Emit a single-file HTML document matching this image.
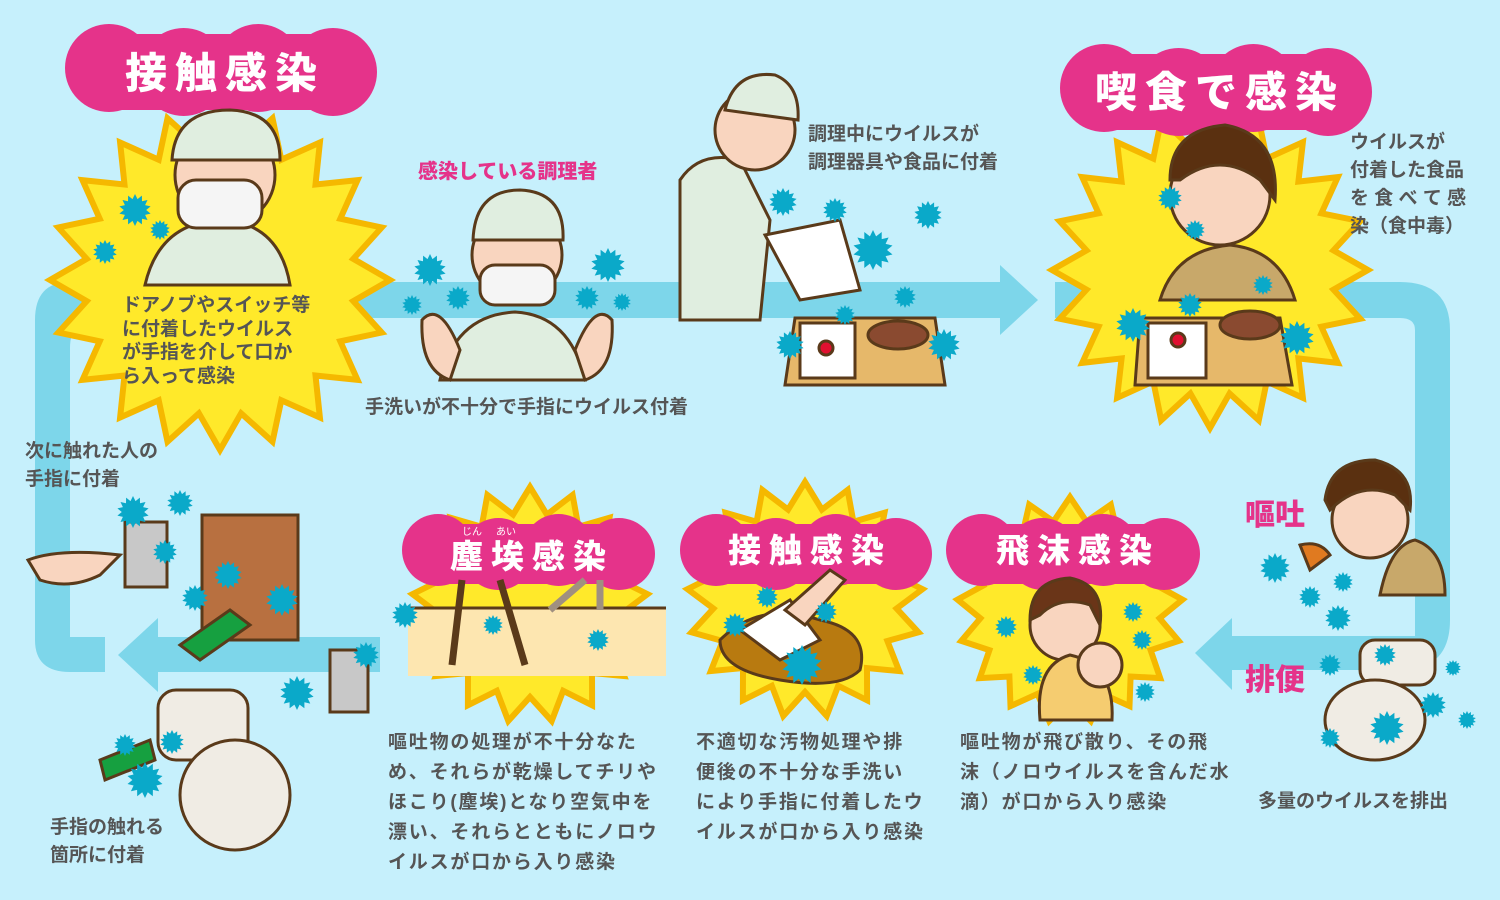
<!DOCTYPE html>
<html><head><meta charset="utf-8">
<style>
html,body{margin:0;padding:0;background:#c6f0fc;}
svg{display:block}
.t{font-family:"Liberation Sans","Noto Sans CJK JP",sans-serif;fill:#555;font-size:19px;font-weight:bold}
.b{letter-spacing:1.8px}
.lbl{font-family:"Liberation Sans","Noto Sans CJK JP",sans-serif;fill:#fff;font-weight:900;letter-spacing:8px}
.pk{font-family:"Liberation Sans","Noto Sans CJK JP",sans-serif;fill:#e5338a;font-weight:900}
</style></head><body>
<svg id="s" width="1500" height="900" viewBox="0 0 1500 900" xmlns="http://www.w3.org/2000/svg">
<rect width="1500" height="900" fill="#c6f0fc"/>
<g fill="#7dd6ea">
<path d="M100 282 H1000 V318 H100 Q70 318 70 348 V637 H105 V672 H70 Q35 672 35 640 V320 Q35 282 70 282 Z"/>
<polygon points="1000,265 1038,300 1000,335"/>
<path d="M1055 282 H1400 Q1450 282 1450 330 V620 Q1450 670 1400 670 H1232 V636 H1415 V330 Q1415 318 1400 318 H1055 Z"/>
<polygon points="1232,618 1195,653 1232,690"/>
<rect x="158" y="637" width="222" height="35"/>
<polygon points="158,618 118,655 158,692"/>
</g>
<g id="stars"></g>
<g id="clouds" fill="#e5338a"></g>
<text class="lbl" x="225" y="88" font-size="42" text-anchor="middle">接触感染</text>
<text class="lbl" x="1220" y="107" font-size="42" text-anchor="middle">喫食で感染</text>
<text class="lbl" x="532" y="568" font-size="33" text-anchor="middle">塵埃感染</text>
<text x="462" y="535" font-size="10" fill="#fff" font-family="Liberation Sans,Noto Sans CJK JP,sans-serif">じん</text>
<text x="496" y="535" font-size="10" fill="#fff" font-family="Liberation Sans,Noto Sans CJK JP,sans-serif">あい</text>
<text class="lbl" x="810" y="562" font-size="33" text-anchor="middle">接触感染</text>
<text class="lbl" x="1078" y="562" font-size="33" text-anchor="middle">飛沫感染</text>
<g stroke="#5a3a1a" stroke-width="3">
<path d="M145 285 Q160 220 225 220 Q280 225 290 285 Z" fill="#e0eee0"/>
<circle cx="225" cy="175" r="50" fill="#f9d5bf"/>
<path d="M172 160 Q175 110 230 110 Q280 112 280 160 Z" fill="#e0eee0"/>
<rect x="178" y="180" width="84" height="48" rx="18" fill="#f5f5f5"/>
<path d="M440 380 Q455 315 515 312 Q570 315 585 380 Z" fill="#e0eee0"/>
<circle cx="517" cy="255" r="45" fill="#f9d5bf"/>
<path d="M473 240 Q475 190 520 190 Q565 192 563 240 Z" fill="#e0eee0"/>
<rect x="480" y="265" width="75" height="40" rx="15" fill="#f5f5f5"/>
<path d="M422 320 Q440 300 460 350 L450 380 Q420 370 422 320Z" fill="#f9d5bf"/>
<path d="M612 320 Q595 300 575 350 L585 380 Q615 370 612 320Z" fill="#f9d5bf"/>
<path d="M680 320 V180 Q700 150 740 160 L770 220 L760 320 Z" fill="#e0eee0"/>
<circle cx="755" cy="130" r="40" fill="#f9d5bf"/>
<path d="M725 110 Q735 70 775 75 Q800 85 798 120 Z" fill="#e0eee0"/>
<polygon points="765,235 840,220 860,290 800,300" fill="#fff"/>
<polygon points="795,318 935,318 945,385 785,385" fill="#e6b86a"/>
<rect x="800" y="323" width="55" height="55" fill="#fff"/>
<circle cx="826" cy="348" r="7" fill="#e01030"/>
<ellipse cx="898" cy="335" rx="30" ry="14" fill="#8a4a30"/>
<path d="M1160 300 Q1175 250 1230 245 Q1280 250 1295 300 Z" fill="#c8a86a"/>
<circle cx="1220" cy="195" r="50" fill="#f9d5bf"/>
<path d="M1170 180 Q1170 130 1225 125 Q1280 135 1275 200 L1260 180 Q1220 150 1180 180Z" fill="#5a3010"/>
<polygon points="1140,318 1280,318 1292,385 1135,385" fill="#e6b86a"/>
<rect x="1148" y="323" width="58" height="55" fill="#fff"/>
<circle cx="1178" cy="340" r="7" fill="#e01030"/>
<ellipse cx="1250" cy="325" rx="30" ry="14" fill="#8a4a30"/>
<path d="M1380 595 Q1390 545 1415 540 Q1445 550 1445 595 Z" fill="#c8a86a"/>
<circle cx="1370" cy="520" r="38" fill="#f9d5bf"/>
<path d="M1325 500 Q1330 460 1375 460 Q1415 470 1410 510 L1395 495 Q1360 480 1330 510Z" fill="#5a3010"/>
<path d="M1300 545 Q1320 540 1330 555 L1310 570Z" fill="#e07a20"/>
<rect x="1360" y="640" width="75" height="45" rx="15" fill="#f0ece4"/>
<ellipse cx="1375" cy="720" rx="50" ry="40" fill="#f0ece4"/>
<circle cx="1065" cy="625" r="35" fill="#f9d5bf"/>
<path d="M1030 620 Q1030 580 1070 578 Q1105 585 1100 625 L1090 605 Q1060 595 1040 615Z" fill="#6a3518"/>
<path d="M1040 720 Q1035 665 1070 655 Q1115 665 1112 720 Z" fill="#f5cc70"/>
<circle cx="1100" cy="665" r="22" fill="#f9d5bf"/>
<rect x="408" y="608" width="258" height="68" fill="#fde6b0" stroke="none"/>
<line x1="408" y1="608" x2="666" y2="608"/>
<path d="M462 580 L452 665 M500 580 L525 665" fill="none" stroke-width="7"/>
<path d="M585 580 L550 610 M600 580 L600 610" fill="none" stroke="#a09080" stroke-width="7"/>
<path d="M720 640 Q760 600 820 620 Q870 630 860 670 Q840 690 780 680 Q720 670 720 640Z" fill="#b87a10"/>
<path d="M740 630 L790 600 L820 640 L780 660Z" fill="#fff"/>
<path d="M785 610 L830 570 L845 580 L805 625Z" fill="#f9d5bf"/>
<rect x="202" y="515" width="96" height="125" fill="#b87040"/>
<rect x="125" y="522" width="42" height="65" fill="#c8c8c8"/>
<path d="M28 560 Q60 548 120 555 L100 575 Q70 590 40 580Z" fill="#f9d5bf"/>
<path d="M180 645 L230 610 L250 625 L200 660Z" fill="#16a040"/>
<rect x="330" y="650" width="38" height="62" fill="#c8c8c8"/>
<rect x="158" y="690" width="90" height="70" rx="18" fill="#f0ece4"/>
<ellipse cx="235" cy="795" rx="55" ry="55" fill="#f0ece4"/>
<path d="M100 760 L150 740 L155 760 L105 780Z" fill="#16a040"/>
</g>
<g id="virus"></g>
<text class="t"><tspan x="122" y="311">ドアノブやスイッチ等</tspan><tspan x="122" y="335">に付着したウイルス</tspan><tspan x="122" y="358">が手指を介して口か</tspan><tspan x="122" y="382">ら入って感染</tspan></text>
<text class="pk" x="418" y="178" font-size="20">感染している調理者</text>
<text class="t" x="365" y="413">手洗いが不十分で手指にウイルス付着</text>
<text class="t"><tspan x="808" y="140">調理中にウイルスが</tspan><tspan x="808" y="168">調理器具や食品に付着</tspan></text>
<text class="t"><tspan x="1350" y="148">ウイルスが</tspan><tspan x="1350" y="176">付着した食品</tspan><tspan x="1350" y="204">を 食 べ て 感</tspan><tspan x="1350" y="232">染（食中毒）</tspan></text>
<text class="t"><tspan x="25" y="457">次に触れた人の</tspan><tspan x="25" y="485">手指に付着</tspan></text>
<text class="pk" x="1245" y="525" font-size="30">嘔吐</text>
<text class="pk" x="1245" y="690" font-size="30">排便</text>
<text class="t" x="1258" y="807">多量のウイルスを排出</text>
<text class="t b"><tspan x="388" y="748">嘔吐物の処理が不十分なた</tspan><tspan x="388" y="778">め、それらが乾燥してチリや</tspan><tspan x="388" y="808">ほこり(塵埃)となり空気中を</tspan><tspan x="388" y="838">漂い、それらとともにノロウ</tspan><tspan x="388" y="868">イルスが口から入り感染</tspan></text>
<text class="t b"><tspan x="696" y="748">不適切な汚物処理や排</tspan><tspan x="696" y="778">便後の不十分な手洗い</tspan><tspan x="696" y="808">により手指に付着したウ</tspan><tspan x="696" y="838">イルスが口から入り感染</tspan></text>
<text class="t b"><tspan x="960" y="748">嘔吐物が飛び散り、その飛</tspan><tspan x="960" y="778">沫（ノロウイルスを含んだ水</tspan><tspan x="960" y="808">滴）が口から入り感染</tspan></text>
<text class="t"><tspan x="50" y="833">手指の触れる</tspan><tspan x="50" y="861">箇所に付着</tspan></text>
</svg>
<script>
var NS="http://www.w3.org/2000/svg";
function star(cx,cy,ro,ri,n,fill,stroke,sw,parent){
 var p=[];for(var i=0;i<2*n;i++){var a=Math.PI*i/n-Math.PI/2;var r=i%2?ri:ro;p.push((cx+r*Math.cos(a)).toFixed(1)+","+(cy+r*Math.sin(a)).toFixed(1));}
 var e=document.createElementNS(NS,"polygon");e.setAttribute("points",p.join(" "));e.setAttribute("fill",fill);
 if(stroke){e.setAttribute("stroke",stroke);e.setAttribute("stroke-width",sw);e.setAttribute("stroke-linejoin","miter");}
 document.getElementById(parent).appendChild(e);}
[[220,280,170,135,20],[1210,270,158,125,20],[530,605,118,92,17],[805,600,118,92,17],[1070,610,113,90,17]].forEach(function(s){
 star(s[0],s[1],s[2],s[3],s[4],"#ffe92a","#f5b800",6,"stars");});
function cloud(x,y,w,h){var g=document.getElementById("clouds");var r=h/2;var n=Math.round(w/(h*0.9));
 for(var i=0;i<n;i++){var c=document.createElementNS(NS,"circle");c.setAttribute("cx",x+r+(w-2*r)*i/(n-1));c.setAttribute("cy",y+r+(i%2?0:-4));c.setAttribute("r",r);g.appendChild(c);}
 var rc=document.createElementNS(NS,"rect");rc.setAttribute("x",x+r);rc.setAttribute("y",y+6);rc.setAttribute("width",w-2*r);rc.setAttribute("height",h-12);g.appendChild(rc);}
cloud(65,28,312,88);cloud(1060,48,312,88);cloud(402,518,253,72);cloud(680,518,252,72);cloud(946,518,254,72);
[[135,210,16],[105,252,12],[160,230,10],[430,270,16],[412,305,10],[458,298,12],[608,265,17],[587,298,12],[622,302,9],[783,202,14],[835,210,12],[928,215,14],[873,250,20],[905,297,11],[790,345,14],[944,345,16],[845,315,10],
[1170,198,12],[1195,230,10],[1263,285,10],[1133,325,17],[1190,305,12],[1297,338,17],[1275,568,15],[1310,597,11],[1343,582,10],[1338,618,13],[1330,665,11],[1385,655,11],[1433,705,13],[1453,668,8],[1467,720,9],[1387,728,17],[1330,738,10],
[133,512,16],[180,503,13],[165,552,12],[228,575,14],[195,598,13],[282,600,16],[405,615,13],[493,625,10],[598,640,11],[767,597,11],[826,612,11],[735,625,12],[802,665,20],[1006,627,11],[1133,612,10],[1142,640,10],[1033,675,10],[1145,692,10],[366,655,13],[297,693,17],[125,745,11],[172,742,12],[145,780,18]].forEach(function(v){
 star(v[0],v[1],v[2],v[2]*0.7,14,"#0aa9c9",null,0,"virus");});
</script>
</body></html>
